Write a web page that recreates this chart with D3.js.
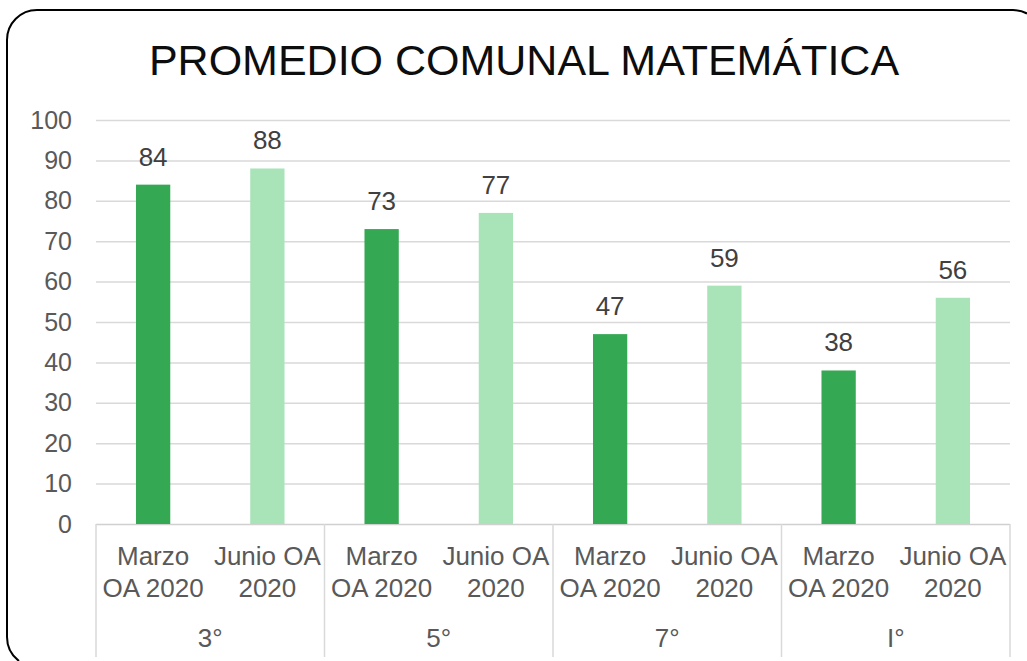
<!DOCTYPE html>
<html>
<head>
<meta charset="utf-8">
<script src="https://cdn.jsdelivr.net/npm/d3@7"></script>
<style>
  html, body { margin: 0; padding: 0; background: #fff; overflow: hidden; }
  svg { display: block; }
  svg text { font-family: "Liberation Sans", Arial, sans-serif; }
</style>
</head>
<body>
<div id="chart"></div>
<script>
// data
const title = "PROMEDIO COMUNAL MATEMÁTICA"
const groups = ["3°", "5°", "7°", "I°"]
const series = ["Marzo OA 2020", "Junio OA 2020"]
// wrapped tick labels, as Excel draws them
const seriesLines = [["Marzo", "OA 2020"], ["Junio OA", "2020"]]
const marzo = [84, 73, 47, 38]
const junio = [88, 77, 59, 56]
const yTicks = [0, 10, 20, 30, 40, 50, 60, 70, 80, 90, 100]
const colors = ["#34a853", "#a8e4b8"]

const W = 1027, H = 661
const plot = {left: 96, right: 1010, top: 120, bottom: 524}

const svg = d3.select("#chart")
  .append("svg")
    .attr("width", W)
    .attr("height", H)

// outer frame: only the part of the rounded box that falls inside the picture
svg.append("path")
  .attr("d", "M 19," + H + " A 30,30 0 0 1 7," + (H - 24) +
             " L 7,40 A 30,30 0 0 1 37,10 L 1013,10 A 30,30 0 0 1 " + W + ",13.5")
  .style("fill", "none")
  .style("stroke", "#000")
  .style("stroke-width", 2)

svg.append("text")
  .attr("x", 524)
  .attr("y", 75)
  .attr("text-anchor", "middle")
  .attr("font-size", 43)
  .attr("fill", "#0d0d0d")
  .text(title)

const y = d3.scaleLinear()
  .domain([0, 100])
  .range([plot.bottom, plot.top])

const x0 = d3.scaleBand()
  .domain(groups)
  .range([plot.left, plot.right])
  .padding(0)

const x1 = d3.scaleBand()
  .domain(series)
  .range([0, x0.bandwidth()])
  .paddingInner(0.7)
  .paddingOuter(0.35)

// grid lines + y axis labels
const yAxis = svg.append("g")
  .attr("transform", "translate(" + plot.left + ",0)")
  .call(d3.axisLeft(y).tickValues(yTicks).tickSize(-(plot.right - plot.left)).tickPadding(24))

yAxis.select(".domain").remove()
yAxis.selectAll(".tick line")
  .attr("stroke", (d) => d === 0 ? "#d0d0d0" : "#d9d9d9")
  .attr("stroke-width", 1.5)
yAxis.selectAll("text")
  .attr("font-size", 25)
  .attr("fill", "#595959")
  .attr("font-family", "Liberation Sans, Arial, sans-serif")

// category separators below the axis
svg.append("g")
  .selectAll("line")
  .data(groups.concat(["end"]))
  .enter()
  .append("line")
    .attr("x1", (d, i) => i < groups.length ? x0(d) : plot.right)
    .attr("x2", (d, i) => i < groups.length ? x0(d) : plot.right)
    .attr("y1", plot.bottom)
    .attr("y2", 657)
    .attr("stroke", "#d9d9d9")
    .attr("stroke-width", 1.5)

const rows = []
groups.forEach((g, i) => {
  rows.push({group: g, s: series[0], v: marzo[i], c: colors[0], lines: seriesLines[0]})
  rows.push({group: g, s: series[1], v: junio[i], c: colors[1], lines: seriesLines[1]})
})

// bars
svg.append("g")
  .selectAll("rect")
  .data(rows)
  .enter()
  .append("rect")
    .attr("x", (d) => x0(d.group) + x1(d.s))
    .attr("y", (d) => y(d.v))
    .attr("width", x1.bandwidth())
    .attr("height", (d) => y(0) - y(d.v))
    .style("fill", (d) => d.c)

// value labels
svg.append("g")
  .selectAll("text")
  .data(rows)
  .enter()
  .append("text")
    .attr("x", (d) => x0(d.group) + x1(d.s) + x1.bandwidth() / 2)
    .attr("y", (d) => y(d.v) - 19)
    .attr("text-anchor", "middle")
    .attr("font-size", 26)
    .attr("fill", "#404040")
    .text((d) => d.v)

// series tick labels (two lines each)
const tickLabels = svg.append("g")
  .selectAll("text")
  .data(rows)
  .enter()
  .append("text")
    .attr("text-anchor", "middle")
    .attr("font-size", 26)
    .attr("fill", "#595959")

tickLabels.selectAll("tspan")
  .data((d) => d.lines.map((l) => ({l: l, cx: x0(d.group) + x1(d.s) + x1.bandwidth() / 2})))
  .enter()
  .append("tspan")
    .attr("x", (d) => d.cx)
    .attr("y", (d, i) => 565 + i * 32)
    .text((d) => d.l)

// group labels
svg.append("g")
  .selectAll("text")
  .data(groups)
  .enter()
  .append("text")
    .attr("x", (d) => x0(d) + x0.bandwidth() / 2)
    .attr("y", 647)
    .attr("text-anchor", "middle")
    .attr("font-size", 26)
    .attr("fill", "#595959")
    .text((d) => d)
</script>
</body>
</html>
